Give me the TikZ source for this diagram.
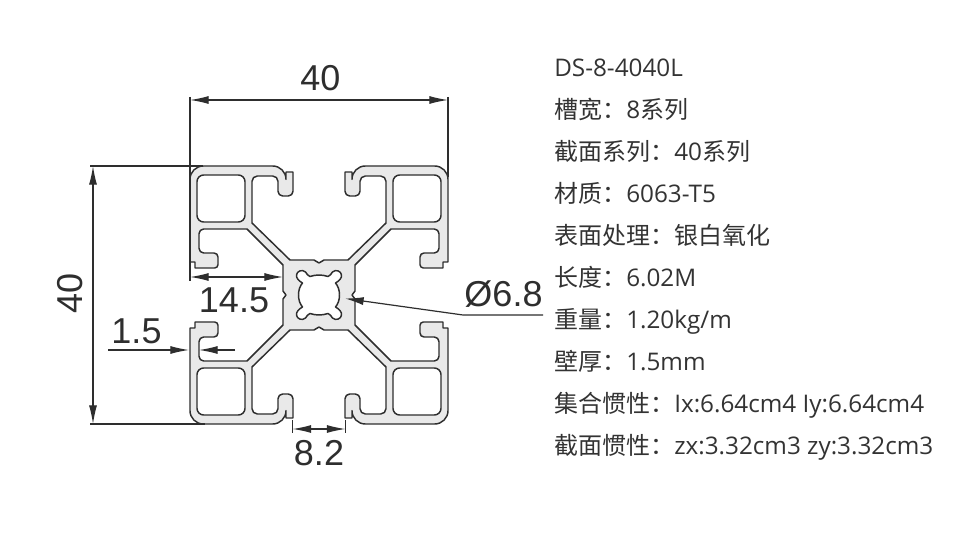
\documentclass[tikz,border=0pt]{standalone}
\usepackage{fontspec}
\setmainfont{Liberation Sans}
\newfontfamily\cjkfont{Noto Sans CJK SC}
\newfontfamily\latinfont{Open Sans}
\usetikzlibrary{arrows.meta}
\definecolor{ink}{HTML}{2E2E2E}
\definecolor{alu}{HTML}{E9E9E9}
\definecolor{txt}{HTML}{333333}
\tikzset{
  prof/.style={draw=ink,line width=1.1pt,line join=round},
  dimline/.style={draw=ink,line width=0.9pt},
  dimarrow/.style={dimline,{Latex[length=14pt,width=6pt]}-{Latex[length=14pt,width=6pt]}},
  onearrow/.style={dimline,-{Latex[length=14pt,width=6pt]}},
  dimtext/.style={font=\fontsize{27pt}{30pt}\selectfont,text=ink,inner sep=0pt},
  spec/.style={font=\cjkfont\fontsize{18pt}{20pt}\selectfont,text=txt,anchor=base west,inner sep=0pt},
}
\newcommand{\lat}{\latinfont\fontsize{18.2pt}{20pt}\selectfont}
\newcommand{\quadoutline}{(-33,0) -- (-36,-4) -- (-36,-30) -- (-72,-66) [rounded corners=3.5pt] -- (-120,-66) -- (-120,-42) [rounded corners=3pt] -- (-101,-42) [rounded corners=2.5pt] -- (-101,-27) [rounded corners=0pt] -- (-124,-27) -- (-124,-33) -- (-129,-33) [rounded corners=10pt] -- (-129,-129) -- (-33,-129) [rounded corners=0pt] -- (-33,-123) -- (-26,-123) [rounded corners=3.5pt] -- (-26,-99) -- (-41,-99) [rounded corners=4pt] -- (-41,-119) -- (-67,-119) [rounded corners=0pt] -- (-67,-72) -- (-29,-35) -- (-5,-35) -- (0,-32)}
\begin{document}
\begin{tikzpicture}[x=0.75pt,y=-0.75pt]
\useasboundingbox (0,0) rectangle (954,559);
\fill[white] (0,0) rectangle (954,559);
\begin{scope}[shift={(319,295)}]
  \foreach \sx/\sy in {1/1,-1/1,1/-1,-1/-1}{
    \begin{scope}[xscale=\sx,yscale=\sy]
      \fill[alu] \quadoutline -- (0,0) -- cycle;
      \draw[prof] \quadoutline;
      \draw[prof,fill=white,rounded corners=5pt] (-122,-120) rectangle (-74,-73);
    \end{scope}
  }
  \foreach \sx/\sy in {1/1,-1/1,1/-1,-1/-1}{
    \begin{scope}[xscale=\sx,yscale=\sy]
      \fill[white] (0,0) -- (-20.5,0) .. controls (-20.5,-5) and (-19,-9) .. (-16.5,-12) .. controls (-20,-14) and (-23,-17) .. (-22.5,-20) .. controls (-22,-24) and (-17,-26) .. (-13.5,-23) .. controls (-12,-21) and (-11,-19) .. (-9,-18.5) .. controls (-6,-19.5) and (-3,-20) .. (0,-20) -- cycle;
      \draw[prof] (-20.5,0) .. controls (-20.5,-5) and (-19,-9) .. (-16.5,-12) .. controls (-20,-14) and (-23,-17) .. (-22.5,-20) .. controls (-22,-24) and (-17,-26) .. (-13.5,-23) .. controls (-12,-21) and (-11,-19) .. (-9,-18.5) .. controls (-6,-19.5) and (-3,-20) .. (0,-20);
    \end{scope}
  }
\end{scope}
% dimension anchors
\coordinate (topL) at (190,100); \coordinate (topR) at (448,100);
\coordinate (topLe) at (190,97); \coordinate (topLb) at (190,281);
\coordinate (topRe) at (448,97); \coordinate (topRb) at (448,177);
\coordinate (leftT) at (93,166); \coordinate (leftB) at (93,424);
\coordinate (leftTs) at (90,166); \coordinate (leftTe) at (203,166);
\coordinate (leftBs) at (90,424); \coordinate (leftBe) at (205,424);
\coordinate (hL) at (190,277); \coordinate (hR) at (283,277);
\coordinate (oneA) at (108,350); \coordinate (oneB) at (189,350);
\coordinate (oneC) at (235,350); \coordinate (oneD) at (199,350);
\coordinate (eL) at (292.5,429); \coordinate (eR) at (345.5,429);
\coordinate (eLa) at (292.5,420); \coordinate (eLb) at (292.5,433);
\coordinate (eRa) at (345.5,420); \coordinate (eRb) at (345.5,433);
\coordinate (dTip) at (345,298.5); \coordinate (dKnee) at (463,315); \coordinate (dEnd) at (543,315);
\draw[dimline] (topLe) -- (topLb);
\draw[dimline] (topRe) -- (topRb);
\draw[dimarrow] (topL) -- (topR);
\draw[dimline] (leftTs) -- (leftTe);
\draw[dimline] (leftBs) -- (leftBe);
\draw[dimarrow] (leftT) -- (leftB);
\draw[dimarrow] (hL) -- (hR);
\draw[onearrow] (oneA) -- (oneB);
\draw[onearrow] (oneC) -- (oneD);
\draw[dimline] (eLa) -- (eLb);
\draw[dimline] (eRa) -- (eRb);
\draw[dimarrow] (eL) -- (eR);
\draw[dimline,{Latex[length=14pt,width=6pt]}-] (dTip) -- (dKnee) -- (dEnd);
\node[dimtext] (t40a) at (320.5,78) {40};
\node[dimtext,rotate=90] (t40b) at (70,293) {40};
\node[dimtext] (t145) at (234,300) {14.5};
\node[dimtext] (t15) at (136.5,331) {1.5};
\node[dimtext] (t82) at (319,453) {8.2};
\node[dimtext] (t68) at (503.5,294) {Ø6.8};
\foreach \n/\yy/\s in {
 a/76.5/{\lat DS-8-4040L},
 b/118.5/{槽宽：\lat 8\cjkfont\fontsize{18pt}{20pt}\selectfont 系列},
 c/160.5/{截面系列：\lat 40\cjkfont\fontsize{18pt}{20pt}\selectfont 系列},
 d/202.5/{材质：\lat 6063-T5},
 e/244.5/{表面处理：银白氧化},
 f/286.5/{长度：\lat 6.02M},
 g/328.5/{重量：\lat 1.20kg/m},
 h/370.5/{壁厚：\lat 1.5mm},
 i/412.5/{集合惯性：\lat Ix:6.64cm4 Iy:6.64cm4},
 j/454.5/{截面惯性：\lat zx:3.32cm3 zy:3.32cm3}}{
  \node[spec] (spec\n) at (554,\yy) {\s};
}
\end{tikzpicture}
\end{document}
